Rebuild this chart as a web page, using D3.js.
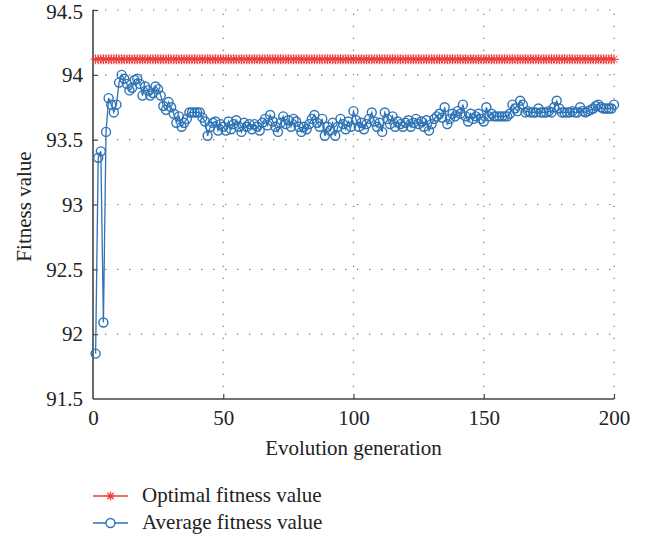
<!DOCTYPE html>
<html>
<head>
<meta charset="utf-8">
<script src="https://cdn.jsdelivr.net/npm/d3@7"></script>
<style>
  html, body { margin: 0; padding: 0; background: #fff; }
  svg text { font-family: "Liberation Serif", "DejaVu Serif", serif; fill: #222; }
</style>
</head>
<body>
<svg id="chart" width="646" height="540"></svg>
<script>
// ---------- data ----------
const generations = d3.range(1, 201);
const optimalValue = 94.12;
const averageValues = [
  91.85, 93.36, 93.41, 92.09, 93.56, 93.82, 93.77, 93.71, 93.77, 93.94,
  94.00, 93.97, 93.93, 93.88, 93.90, 93.96, 93.97, 93.93, 93.84, 93.91,
  93.88, 93.84, 93.86, 93.91, 93.89, 93.84, 93.76, 93.73, 93.79, 93.75,
  93.70, 93.63, 93.68, 93.60, 93.63, 93.66, 93.71, 93.71, 93.71, 93.71,
  93.71, 93.67, 93.64, 93.53, 93.60, 93.63, 93.64, 93.57, 93.62, 93.60,
  93.57, 93.64, 93.58, 93.62, 93.65, 93.60, 93.56, 93.63, 93.60, 93.62,
  93.58, 93.62, 93.60, 93.57, 93.63, 93.66, 93.61, 93.69, 93.64, 93.60,
  93.56, 93.63, 93.68, 93.62, 93.65, 93.60, 93.66, 93.64, 93.60, 93.56,
  93.60, 93.58, 93.62, 93.66, 93.69, 93.63, 93.60, 93.66, 93.53, 93.60,
  93.57, 93.63, 93.53, 93.60, 93.66, 93.62, 93.58, 93.64, 93.60, 93.72,
  93.65, 93.60, 93.63, 93.58, 93.62, 93.66, 93.71, 93.64, 93.60, 93.63,
  93.56, 93.71, 93.66, 93.62, 93.68, 93.60, 93.64, 93.62, 93.60, 93.63,
  93.65, 93.60, 93.63, 93.66, 93.62, 93.64, 93.60, 93.65, 93.57, 93.62,
  93.66, 93.68, 93.70, 93.67, 93.75, 93.62, 93.66, 93.70, 93.68, 93.72,
  93.70, 93.77, 93.68, 93.64, 93.70, 93.66, 93.68, 93.70, 93.66, 93.64,
  93.75, 93.68, 93.70, 93.68, 93.68, 93.68, 93.68, 93.68, 93.68, 93.70,
  93.77, 93.74, 93.72, 93.80, 93.77, 93.71, 93.72, 93.71, 93.71, 93.71,
  93.74, 93.71, 93.71, 93.71, 93.72, 93.71, 93.75, 93.80, 93.74, 93.71,
  93.71, 93.71, 93.71, 93.72, 93.71, 93.71, 93.75, 93.72, 93.71, 93.72,
  93.73, 93.74, 93.76, 93.77, 93.75, 93.74, 93.74, 93.74, 93.74, 93.77
];
const xTicks = [0, 50, 100, 150, 200];
const yTicks = [91.5, 92, 92.5, 93, 93.5, 94, 94.5];
const seriesNames = ["Optimal fitness value", "Average fitness value"];
const seriesColors = ["#ee3a36", "#2d73b5"];
const xTitle = "Evolution generation";
const yTitle = "Fitness value";

// ---------- layout ----------
const svg = d3.select("#chart");
const m = { left: 93, right: 614, top: 10, bottom: 399 };
const x = d3.scaleLinear().domain([0, 200]).range([m.left, m.right]);
const y = d3.scaleLinear().domain([91.5, 94.5]).range([m.bottom, m.top]);
const fontSize = 21;

// grid
const grid = svg.append("g");
grid.selectAll("line.gx").data(xTicks.filter(d => d > 0)).join("line")
  .attr("x1", d => x(d)).attr("x2", d => x(d))
  .attr("y1", m.bottom).attr("y2", m.top)
  .attr("stroke", "#777").attr("stroke-width", 1.2)
  .attr("stroke-dasharray", "1.3,10.7");
grid.selectAll("line.gy").data(yTicks.filter(d => d > 91.5)).join("line")
  .attr("x1", m.left).attr("x2", m.right)
  .attr("y1", d => y(d)).attr("y2", d => y(d))
  .attr("stroke", "#777").attr("stroke-width", 1.2)
  .attr("stroke-dasharray", "1.3,10.7");

// axes
const xAxis = d3.axisBottom(x).tickValues(xTicks).tickSize(-5).tickPadding(11).tickFormat(d3.format("d"));
const yAxis = d3.axisLeft(y).tickValues(yTicks).tickSize(-5).tickPadding(10).tickFormat(d => String(d));

const gx = svg.append("g").attr("transform", `translate(0,${m.bottom})`).call(xAxis);
const gy = svg.append("g").attr("transform", `translate(${m.left},0)`).call(yAxis);
[gx, gy].forEach(g => {
  g.select(".domain").attr("stroke", "#444").attr("stroke-width", 1.6);
  g.selectAll(".tick line").attr("stroke", "#444").attr("stroke-width", 1.2);
  g.selectAll(".tick text").attr("font-size", fontSize)
    .attr("font-family", '"Liberation Serif", serif').attr("fill", "#222");
});
gx.select(".domain").attr("d", `M${m.left},0H${m.right}`);
gy.select(".domain").attr("d", `M0,${m.bottom}V${m.top}`);
gx.selectAll(".tick").filter(d => d === 0).select("line").remove();
gy.selectAll(".tick").filter(d => d === 91.5).select("line").remove();
// keep the top label inside the picture
gy.selectAll(".tick").filter(d => d === 94.5).select("text").attr("dy", "0.42em");

// titles
svg.append("text").attr("x", (m.left + m.right) / 2).attr("y", 455)
  .attr("text-anchor", "middle").attr("font-size", fontSize).text(xTitle);
svg.append("text").attr("transform", `translate(31,${(m.top + m.bottom) / 2 + 2}) rotate(-90)`)
  .attr("text-anchor", "middle").attr("font-size", fontSize).text(yTitle);

// star marker path
function starPath(cx, cy, r) {
  const d = r * 0.72;
  return `M${cx - r},${cy}H${cx + r}M${cx},${cy - r}V${cy + r}` +
         `M${cx - d},${cy - d}L${cx + d},${cy + d}M${cx - d},${cy + d}L${cx + d},${cy - d}`;
}

// optimal series
const optData = generations.map(g => ({ g, v: optimalValue }));
const line = d3.line().x(d => x(d.g)).y(d => y(d.v));
svg.append("path").datum(optData).attr("d", line)
  .attr("fill", "none").attr("stroke", seriesColors[0]).attr("stroke-width", 1.2);
svg.append("g").selectAll("path").data(optData).join("path")
  .attr("d", d => starPath(x(d.g), y(d.v), 5))
  .attr("stroke", seriesColors[0]).attr("stroke-width", 1).attr("fill", "none");

// average series
const avgData = generations.map((g, i) => ({ g, v: averageValues[i] }));
svg.append("path").datum(avgData).attr("d", line)
  .attr("fill", "none").attr("stroke", seriesColors[1]).attr("stroke-width", 1.3);
svg.append("g").selectAll("circle").data(avgData).join("circle")
  .attr("cx", d => x(d.g)).attr("cy", d => y(d.v)).attr("r", 4.5)
  .attr("fill", "none").attr("stroke", seriesColors[1]).attr("stroke-width", 1.4);

// legend
const legend = svg.append("g");
const legY = [496, 523];
seriesNames.forEach((name, i) => {
  const yy = legY[i];
  legend.append("line").attr("x1", 93).attr("x2", 128).attr("y1", yy).attr("y2", yy)
    .attr("stroke", seriesColors[i]).attr("stroke-width", 1.3);
  if (i === 0) {
    legend.append("path").attr("d", starPath(110.5, yy, 4.5))
      .attr("stroke", seriesColors[i]).attr("stroke-width", 1.2).attr("fill", "none");
  } else {
    legend.append("circle").attr("cx", 110.5).attr("cy", yy).attr("r", 4.5)
      .attr("fill", "#fff").attr("stroke", seriesColors[i]).attr("stroke-width", 1.4);
  }
  legend.append("text").attr("x", 142).attr("y", yy + 6).attr("font-size", fontSize).text(name);
});
</script>
</body>
</html>
